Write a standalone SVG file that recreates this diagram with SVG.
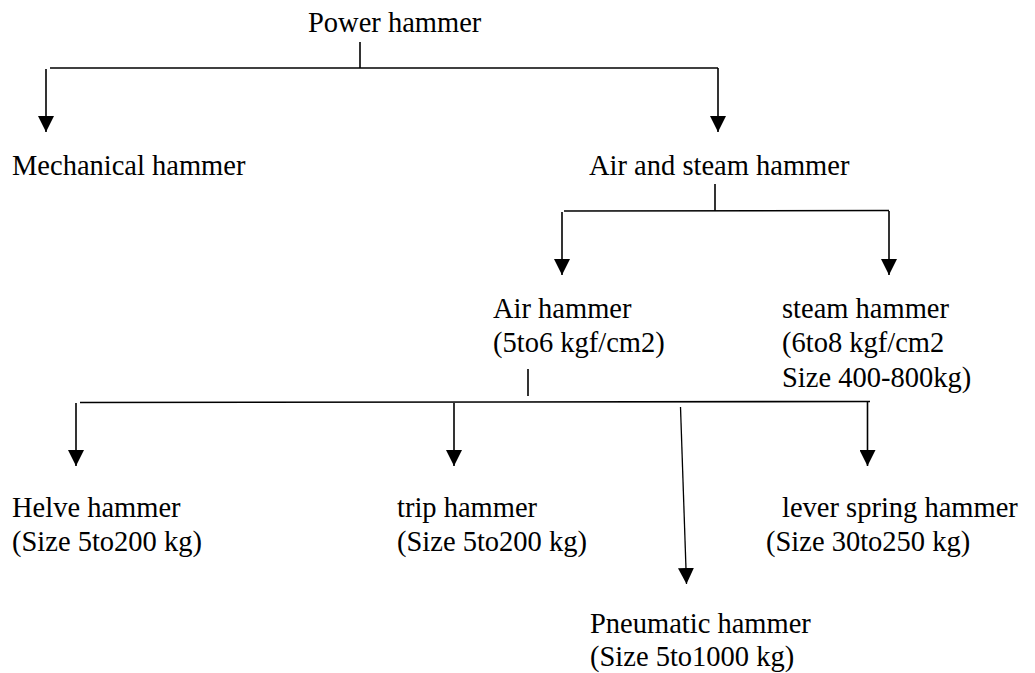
<svg xmlns="http://www.w3.org/2000/svg" width="1035" height="673" viewBox="0 0 1035 673">
<style>
text{font-family:"Liberation Serif","Times New Roman",serif;font-size:28.5px;fill:#000}
.c{stroke:#000;stroke-width:1.6;fill:none}
.thin{stroke-width:1.3}
</style>
<defs>
<marker id="ah" markerUnits="userSpaceOnUse" markerWidth="16" markerHeight="16" viewBox="0 0 15 15" refX="15" refY="7.5" orient="auto">
<path d="M0,0 L15,7.5 L0,15 z" fill="#000"/>
</marker>
</defs>
<rect width="1035" height="673" fill="#fff"/>
<g id="connectors">
<line class="c" x1="360" y1="42" x2="360" y2="68"/>
<line class="c" x1="50" y1="68" x2="718" y2="68"/>
<line class="c" x1="46" y1="69" x2="46" y2="132" marker-end="url(#ah)"/>
<line class="c" x1="718" y1="68" x2="718" y2="132" marker-end="url(#ah)"/>
<line class="c" x1="715" y1="184" x2="715" y2="211"/>
<line class="c" x1="564" y1="211" x2="889" y2="210.5"/>
<line class="c" x1="562" y1="212" x2="562" y2="275" marker-end="url(#ah)"/>
<line class="c" x1="889" y1="211" x2="889" y2="275" marker-end="url(#ah)"/>
<line class="c" x1="528" y1="369" x2="528" y2="396"/>
<line class="c" x1="80" y1="402.5" x2="870" y2="401.5"/>
<line class="c" x1="76" y1="403" x2="76" y2="466" marker-end="url(#ah)"/>
<line class="c" x1="454" y1="403" x2="454" y2="466" marker-end="url(#ah)"/>
<line class="c" x1="867.5" y1="402" x2="867.5" y2="466" marker-end="url(#ah)"/>
<line class="c thin" x1="680.5" y1="407" x2="686.5" y2="584" marker-end="url(#ah)"/>
</g>
<g id="power-hammer"><text x="308" y="32">Power hammer</text></g>
<g id="mechanical-hammer"><text x="12" y="175">Mechanical hammer</text></g>
<g id="air-steam-hammer"><text x="589" y="175">Air and steam hammer</text></g>
<g id="air-hammer"><text x="493" y="318">Air hammer</text><text x="493" y="352">(5to6 kgf/cm2)</text></g>
<g id="steam-hammer"><text x="782" y="318">steam hammer</text><text x="782" y="352">(6to8 kgf/cm2</text><text x="782" y="387">Size 400-800kg)</text></g>
<g id="helve-hammer"><text x="12" y="517">Helve hammer</text><text x="12" y="551">(Size 5to200 kg)</text></g>
<g id="trip-hammer"><text x="397" y="517">trip hammer</text><text x="397" y="551">(Size 5to200 kg)</text></g>
<g id="lever-spring-hammer"><text x="782" y="517">lever spring hammer</text><text x="766" y="551">(Size 30to250 kg)</text></g>
<g id="pneumatic-hammer"><text x="590" y="633">Pneumatic hammer</text><text x="590" y="666">(Size 5to1000 kg)</text></g>
</svg>
